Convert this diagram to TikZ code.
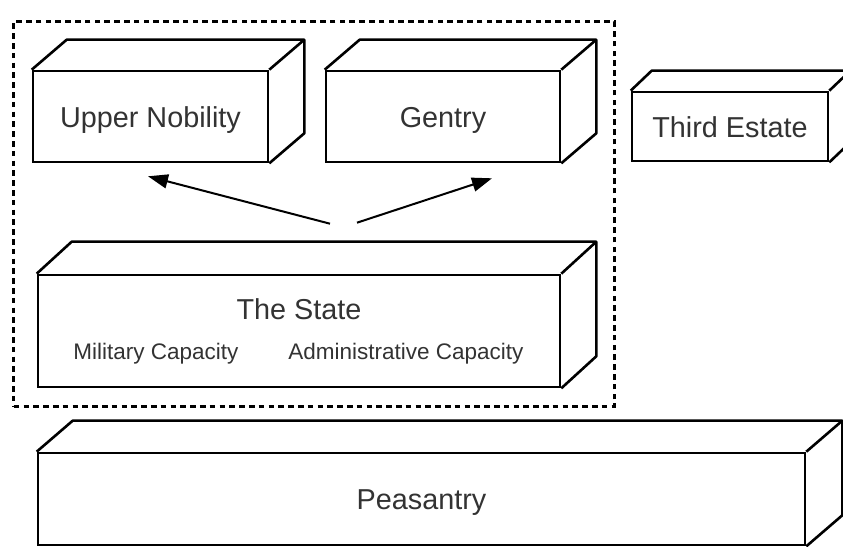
\documentclass[tikz,border=0pt]{standalone}
\usepackage{fontspec}
\setmainfont{Liberation Sans}
\usetikzlibrary{arrows.meta,positioning,fit}

\tikzset{
  slab/.style={draw, line width=1.3pt, fill=white, inner sep=0pt, text=black!80,
    text height=13.7pt, text depth=2.9pt, font=\fontsize{14.4}{17}\selectfont},
  face/.style={line width=1.3pt, line join=round},
  capacity/.style={text=black!80, inner sep=0pt, anchor=base, font=\fontsize{11.25}{13}\selectfont},
  court/.style={draw, line width=1.3pt, dash pattern=on 2.8pt off 2.1pt, inner sep=9pt},
}

\begin{document}
\begin{tikzpicture}[x=0.5pt, y=0.5pt, >={Triangle[length=10pt,width=7pt]}]
  \useasboundingbox (0,0) rectangle (843,547);
  % the estates as slabs
  \node[slab, minimum width=117.5pt, minimum height=45.5pt] (nobility) at (150.5,430.5) {Upper Nobility};
  \node[slab, minimum width=117pt, minimum height=45.5pt] (gentry) at (443,430.5) {Gentry};
  \node[slab, minimum width=98pt, minimum height=34.5pt] (third) at (730,420.5) {Third Estate};
  \node[slab, minimum width=261pt, minimum height=56pt] (state) at (299,216) {};
  \node[slab, minimum width=383.5pt, minimum height=46pt] (peasantry) at (421.5,48) {Peasantry};
  % depth faces
  \draw[face] (nobility.north west) -- ++(35,30) -| ([shift={(35,30)}]nobility.south east) -- (nobility.south east)
    (nobility.north east) -- ++(35,30);
  \draw[face] (gentry.north west) -- ++(35,30) -| ([shift={(35,30)}]gentry.south east) -- (gentry.south east)
    (gentry.north east) -- ++(35,30) coordinate (genback);
  \draw[face] (third.north west) -- ++(21,20) -| ([shift={(21,20)}]third.south east) -- (third.south east)
    (third.north east) -- ++(21,20);
  \draw[face] (state.north west) -- ++(35,32) -| ([shift={(35,32)}]state.south east) -- (state.south east)
    (state.north east) -- ++(35,32);
  \draw[face] (peasantry.north west) -- ++(36,31) -| ([shift={(36,31)}]peasantry.south east) -- (peasantry.south east)
    (peasantry.north east) -- ++(36,31);
  % texts of the state
  \node[capacity, font=\fontsize{14.4}{17}\selectfont] (statename) at (299,227) {The State};
  \node[capacity] (military) at (156,187) {Military Capacity};
  \node[capacity] (admin) at (406,187) {Administrative Capacity};
  % the dashed frame
  \node[court, fit=(nobility)(genback)(state)] (frame) {};
  % arrows
  \coordinate (fromL) at ([shift={(31,50)}]state.north);
  \coordinate (fromR) at ([shift={(58,51)}]state.north);
  \coordinate (toNob) at ([shift={(-2.5,-13)}]nobility.south);
  \coordinate (toGen) at ([shift={(49,-15)}]gentry.south);
  \draw[->, line width=1pt] (fromL) -- (toNob);
  \draw[->, line width=1pt] (fromR) -- (toGen);
\end{tikzpicture}
\end{document}
